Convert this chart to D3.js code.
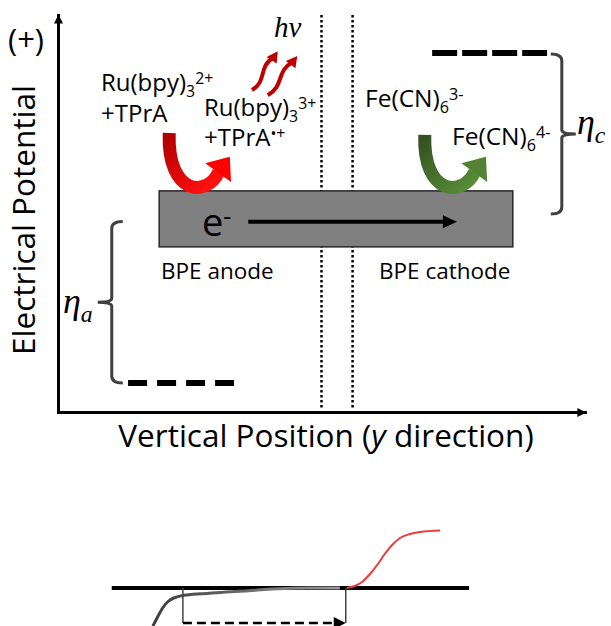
<!DOCTYPE html>
<html>
<head>
<meta charset="utf-8">
<script src="https://cdn.jsdelivr.net/npm/d3@7"></script>
<style>
  body { margin: 0; background: #fff; }
  svg { display: block; font-family: "Open Sans", sans-serif; }
</style>
</head>
<body>
<svg width="611" height="626"></svg>
<script>
var svg = d3.select("svg");

// top diagram: position along the channel (0-100) against electrical potential (0-100)
var gapLines = [50.0, 55.9];
var electrodeX = [19.2, 86.3];
var electrodeV = [41.6, 55.7];
var electronX = [36.1, 75.7];
var electronV = 47.9;
var anodeLevel = [13.3, 33.4, 7.3];
var cathodeLevel = [71.0, 92.8, 90.4];
var braceA = [10.2, 7.3, 48.0];
var braceC = [95.6, 49.9, 90.2];
// tail, two bends, head base, tip
var redArrow = [[21.1, 70.3], [20.7, 54.5], [28.3, 54.0], [30.5, 60.5], [32.6, 64.3]];
var greenArrow = [[69.6, 69.8], [69.2, 54.5], [76.8, 54.0], [79.1, 60.5], [81.2, 64.3]];
var photons = [[[36.8, 81.1], [41.7, 90.9]], [[39.8, 79.8], [45.4, 89.7]]];

// bottom sketch: current against position
var baseLineX = [10.2, 78.0];
var anodic = [[18.0, -38], [19.0, -28], [19.9, -19], [20.9, -13], [21.8, -10], [23.7, -7],
              [26.9, -6], [31.3, -4], [36.4, -3], [39.7, -1], [43.1, 0], [53.5, 0]];
var cathodic = [[54.8, 0], [56.3, 2], [57.7, 6], [59.2, 14], [60.7, 24], [62.0, 34],
                [63.4, 43], [64.9, 50], [66.8, 54], [68.7, 56], [72.5, 57.5]];
var gapMarks = [23.7, 54.6];
var gapDepth = -35;

// labels
var yLabel = "Electrical Potential";
var xLabel = [["Vertical Position (", ""], ["y", "i"], [" direction)", ""]];
var plusLabel = "(+)";
var ru2 = [["Ru(bpy)", ""], ["3", "sub"], ["2+", "sup"]];
var tpra = [["+TPrA", ""]];
var ru3 = [["Ru(bpy)", ""], ["3", "sub"], ["3+", "sup"]];
var tpraRad = [["+TPrA", ""], ["\u2022+", "sup"]];
var fe3 = [["Fe(CN)", ""], ["6", "sub"], ["3-", "sup"]];
var fe4 = [["Fe(CN)", ""], ["6", "sub"], ["4-", "sup"]];
var electronLabel = [["e", ""], ["-", "sup"]];
var anodeText = "BPE anode";
var cathodeText = "BPE cathode";
var etaA = [["\u03b7", ""], ["a", "sub"]];
var etaC = [["\u03b7", ""], ["c", "sub"]];
var hvLabel = "h\u03bd";

var x = d3.scaleLinear().domain([0, 100]).range([58, 585]);
var y = d3.scaleLinear().domain([0, 100]).range([412, 15]);
var y2 = d3.scaleLinear().domain([-40, 60]).range([628, 528]);

var defs = svg.append("defs");
defs.append("marker")
    .attr("id", "axArrow").attr("viewBox", "0 0 10 10")
    .attr("refX", 9).attr("refY", 5)
    .attr("markerUnits", "userSpaceOnUse")
    .attr("markerWidth", 11).attr("markerHeight", 9)
    .attr("orient", "auto")
  .append("path").attr("d", "M0,0L10,5L0,10Z").attr("fill", "#000");

function grad(id, c0, c1) {
  var g = defs.append("linearGradient").attr("id", id)
      .attr("x1", 0).attr("y1", 0).attr("x2", 0.8).attr("y2", 1);
  g.append("stop").attr("offset", 0).attr("stop-color", c0);
  g.append("stop").attr("offset", 1).attr("stop-color", c1);
}
grad("redGrad", "#b00000", "#ff1010");
grad("greenGrad", "#344f20", "#558a36");
var gg = defs.append("linearGradient").attr("id", "grayGrad")
    .attr("x1", 0).attr("y1", 0).attr("x2", 1).attr("y2", 0);
gg.append("stop").attr("offset", 0).attr("stop-color", "#3c3c3c");
gg.append("stop").attr("offset", 1).attr("stop-color", "#9a9a9a");

// text with sub/superscripts
function rich(parts, px, py, size, family) {
  var t = svg.append("text").attr("x", px).attr("y", py).attr("font-size", size);
  if (family) t.attr("font-family", family).attr("font-style", "italic");
  var off = 0;
  parts.forEach(function(p) {
    var target = p[1] == "sub" ? size * 0.25 : p[1] == "sup" ? -size * 0.3 : 0;
    var s = t.append("tspan").text(p[0]).attr("dy", target - off);
    if (p[1] == "sub" || p[1] == "sup") s.attr("font-size", size * 0.66);
    if (p[1] == "i") s.attr("font-style", "italic");
    off = target;
  });
  return t;
}

// gap between the two half-cells
svg.selectAll(".gap").data(gapLines).enter().append("line")
    .attr("x1", d => x(d)).attr("x2", d => x(d))
    .attr("y1", y(100)).attr("y2", y(0.5))
    .attr("stroke", "#000").attr("stroke-width", 2.5)
    .attr("stroke-dasharray", "2.5,2.5");

// axes
svg.append("g").attr("transform", "translate(" + x(0) + ",0)")
    .call(d3.axisLeft(y).tickValues([]).tickSizeOuter(0));
svg.append("g").attr("transform", "translate(0," + y(0) + ")")
    .call(d3.axisBottom(x).tickValues([]).tickSizeOuter(0));
svg.selectAll(".domain").attr("stroke", "#000").attr("stroke-width", 3)
    .attr("stroke-linecap", "square").attr("marker-end", "url(#axArrow)");

svg.append("text").attr("x", 8).attr("y", 51).attr("font-size", 31).text(plusLabel);
svg.append("text")
    .attr("transform", "translate(35," + 220 + ") rotate(-90)")
    .attr("text-anchor", "middle").attr("font-size", 31.5).text(yLabel);
rich(xLabel, 326, 447, 31.5).attr("text-anchor", "middle");

// electrode
svg.append("rect")
    .attr("x", x(electrodeX[0])).attr("y", y(electrodeV[1]))
    .attr("width", x(electrodeX[1]) - x(electrodeX[0]))
    .attr("height", y(electrodeV[0]) - y(electrodeV[1]))
    .attr("fill", "#808080").attr("stroke", "#262626").attr("stroke-width", 1.5);

var ex0 = x(electronX[0]), ex1 = x(electronX[1]), ey = y(electronV);
svg.append("line").attr("x1", ex0).attr("x2", ex1 - 10).attr("y1", ey).attr("y2", ey)
    .attr("stroke", "#000").attr("stroke-width", 4);
svg.append("path")
    .attr("d", "M" + ex1 + "," + ey + "L" + (ex1 - 14) + "," + (ey - 6.5) + "L" + (ex1 - 14) + "," + (ey + 6.5) + "Z")
    .attr("fill", "#000");
rich(electronLabel, 202, 236, 38);

svg.append("text").attr("x", 161).attr("y", 279).attr("font-size", 22.5).text(anodeText);
svg.append("text").attr("x", 379).attr("y", 279).attr("font-size", 22.5).text(cathodeText);

// redox levels
[anodeLevel, cathodeLevel].forEach(function(l, i) {
  svg.append("line")
      .attr("x1", x(l[0])).attr("x2", x(l[1])).attr("y1", y(l[2])).attr("y2", y(l[2]))
      .attr("stroke", "#000").attr("stroke-width", 6)
      .attr("stroke-dasharray", i == 0 ? "19,10" : "25,5");
});

// overpotential braces
function brace(b, dir) {
  var bx = x(b[0]), top = y(b[2]), bot = y(b[1]), mid = (top + bot) / 2;
  var hook = -dir * 11, tip = dir * 14, r = 7;
  var d = "M" + (bx + hook) + "," + top + "Q" + bx + "," + top + " " + bx + "," + (top + r) +
          "V" + (mid - 4) + "Q" + bx + "," + mid + " " + (bx + tip) + "," + mid +
          "Q" + bx + "," + mid + " " + bx + "," + (mid + 4) +
          "V" + (bot - r) + "Q" + bx + "," + bot + " " + (bx + hook) + "," + bot;
  svg.append("path").attr("d", d).attr("fill", "none")
      .attr("stroke", "#404040").attr("stroke-width", 3);
}
brace(braceA, -1);
brace(braceC, 1);
rich(etaA, 63, 313, 36, "Liberation Serif");
rich(etaC, 577, 134, 36, "Liberation Serif");

// reaction arrows
function curvedArrow(a, gradId, headColor) {
  var p = a.map(d => [x(d[0]), y(d[1])]);
  var path = d3.path();
  path.moveTo(p[0][0], p[0][1]);
  path.bezierCurveTo(p[1][0], p[1][1], p[2][0], p[2][1], p[3][0], p[3][1]);
  svg.append("path").attr("d", path.toString()).attr("fill", "none")
      .attr("stroke", "url(#" + gradId + ")").attr("stroke-width", 13);
  var dx = p[4][0] - p[3][0], dy = p[4][1] - p[3][1], len = Math.hypot(dx, dy);
  var ux = dx / len, uy = dy / len, hw = 16;
  var bx = p[3][0] - ux, by = p[3][1] - uy;
  svg.append("path")
      .attr("d", "M" + (bx - uy * hw) + "," + (by + ux * hw) + "L" + p[4][0] + "," + p[4][1] +
                 "L" + (bx + uy * hw) + "," + (by - ux * hw) + "Z")
      .attr("fill", headColor);
}
curvedArrow(redArrow, "redGrad", "#ff0000");
curvedArrow(greenArrow, "greenGrad", "#548235");

// emitted light
photons.forEach(function(ph) {
  var sx = x(ph[0][0]), sy = y(ph[0][1]), tx = x(ph[1][0]), ty = y(ph[1][1]);
  var dx = tx - sx, dy = ty - sy, len = Math.hypot(dx, dy);
  var ux = dx / len, uy = dy / len, nx = -uy, ny = ux, a = 8;
  var ex = tx - ux * 8, ey = ty - uy * 8;
  var ddx = ex - sx, ddy = ey - sy;
  var path = d3.path();
  path.moveTo(sx, sy);
  path.bezierCurveTo(sx + ddx * 0.4 + nx * a, sy + ddy * 0.4 + ny * a,
                     sx + ddx * 0.6 - nx * a, sy + ddy * 0.6 - ny * a, ex, ey);
  svg.append("path").attr("d", path.toString()).attr("fill", "none")
      .attr("stroke", "#c00000").attr("stroke-width", 4);
  var bx = tx - ux * 11, by = ty - uy * 11;
  svg.append("path")
      .attr("d", "M" + tx + "," + ty + "L" + (bx + nx * 6) + "," + (by + ny * 6) +
                 "L" + (bx - nx * 6) + "," + (by - ny * 6) + "Z")
      .attr("fill", "#c00000");
});
svg.append("text").attr("x", 274).attr("y", 37).attr("font-size", 29)
    .attr("font-family", "Liberation Serif").attr("font-style", "italic").text(hvLabel);

rich(ru2, 101, 91, 24);
rich(tpra, 101, 122, 24);
rich(ru3, 204, 116, 24);
rich(tpraRad, 204, 146, 24);
rich(fe3, 365, 107, 24.5);
rich(fe4, 452, 145, 24.5);

// bottom sketch
svg.append("line")
    .attr("x1", x(baseLineX[0])).attr("x2", x(baseLineX[1]))
    .attr("y1", y2(0)).attr("y2", y2(0))
    .attr("stroke", "#000").attr("stroke-width", 4);
svg.append("path").attr("d", d3.line().x(d => x(d[0])).y(d => y2(d[1])).curve(d3.curveBasis)(anodic))
    .attr("fill", "none").attr("stroke", "url(#grayGrad)").attr("stroke-width", 3);
svg.append("path").attr("d", d3.line().x(d => x(d[0])).y(d => y2(d[1])).curve(d3.curveMonotoneX)(cathodic))
    .attr("fill", "none").attr("stroke", "#ee3b3b").attr("stroke-width", 2);
svg.selectAll(".mark").data(gapMarks).enter().append("line")
    .attr("x1", d => x(d)).attr("x2", d => x(d))
    .attr("y1", y2(0)).attr("y2", y2(gapDepth))
    .attr("stroke", "#444").attr("stroke-width", 1.5);
var ay = y2(gapDepth), ax0 = x(gapMarks[0]), ax1 = x(gapMarks[1]);
svg.append("line").attr("x1", ax0).attr("x2", ax1 - 11).attr("y1", ay).attr("y2", ay)
    .attr("stroke", "#000").attr("stroke-width", 2.5).attr("stroke-dasharray", "9,5");
svg.append("path")
    .attr("d", "M" + ax1 + "," + ay + "L" + (ax1 - 12) + "," + (ay - 6) + "L" + (ax1 - 12) + "," + (ay + 6) + "Z")
    .attr("fill", "#000");
</script>
</body>
</html>
